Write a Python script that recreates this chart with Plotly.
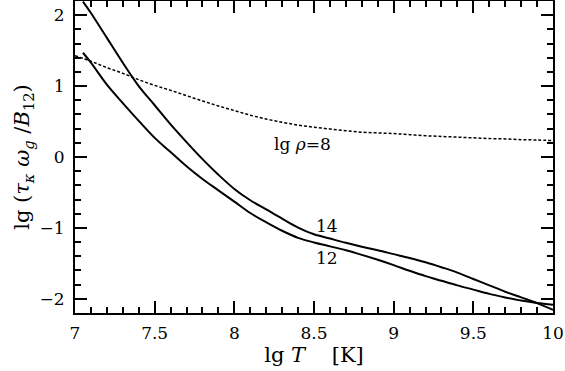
import plotly.graph_objects as go

# lg T grid (K) and the three curves
lgT_14 = [7.05, 7.1, 7.2, 7.3, 7.4, 7.5, 7.6, 7.7, 7.8, 7.9, 8.0, 8.1, 8.2, 8.3, 8.4, 8.5,
          8.6, 8.7, 8.8, 8.9, 9.0, 9.1, 9.2, 9.3, 9.4, 9.5, 9.6, 9.7, 9.8, 9.9, 10.0]
rho14 = [2.19, 2.03, 1.68, 1.33, 1.00, 0.73, 0.46, 0.21, -0.03, -0.25, -0.45, -0.61, -0.74,
         -0.87, -0.995, -1.09, -1.15, -1.21, -1.265, -1.315, -1.37, -1.425, -1.485, -1.555,
         -1.63, -1.72, -1.81, -1.90, -1.98, -2.06, -2.155]

lgT_12 = lgT_14
rho12 = [1.47, 1.33, 1.02, 0.76, 0.51, 0.27, 0.07, -0.13, -0.31, -0.47, -0.63, -0.79, -0.92,
         -1.04, -1.14, -1.205, -1.26, -1.315, -1.38, -1.45, -1.525, -1.605, -1.68, -1.745,
         -1.81, -1.87, -1.93, -1.98, -2.025, -2.06, -2.085]

lgT_8 = [7.0, 7.1, 7.2, 7.3, 7.4, 7.5, 7.6, 7.7, 7.8, 7.9, 8.0, 8.1, 8.2, 8.3, 8.4, 8.5,
         8.6, 8.7, 8.8, 8.9, 9.0, 9.1, 9.2, 9.3, 9.4, 9.5, 9.6, 9.7, 9.8, 9.9, 10.0]
rho8 = [1.43, 1.35, 1.26, 1.18, 1.09, 1.01, 0.94, 0.865, 0.79, 0.72, 0.655, 0.59, 0.535,
        0.49, 0.45, 0.42, 0.395, 0.37, 0.35, 0.34, 0.33, 0.315, 0.30, 0.29, 0.28, 0.27,
        0.26, 0.255, 0.245, 0.24, 0.23]

FONT = 'DejaVu Serif'

fig = go.Figure()
fig.add_trace(go.Scatter(x=lgT_14, y=rho14, mode='lines', line=dict(color='black', width=2),
                         line_shape='spline', showlegend=False, hoverinfo='skip'))
fig.add_trace(go.Scatter(x=lgT_12, y=rho12, mode='lines', line=dict(color='black', width=2),
                         line_shape='spline', showlegend=False, hoverinfo='skip'))
fig.add_trace(go.Scatter(x=lgT_8, y=rho8, mode='lines',
                         line=dict(color='black', width=1.5, dash='3px,2px'),
                         line_shape='spline', showlegend=False, hoverinfo='skip'))

for txt, x, y in [('lg <i>ρ</i>=8', 8.43, 0.18), ('14', 8.58, -0.98), ('12', 8.58, -1.43)]:
    fig.add_annotation(x=x, y=y, text=txt, showarrow=False,
                       font=dict(family=FONT, size=17, color='black'))

axis = dict(showline=True, linecolor='black', linewidth=2, mirror='allticks',
            ticks='inside', ticklen=12, tickwidth=1.5, tickcolor='black',
            showgrid=False, zeroline=False, automargin=False,
            tickfont=dict(family=FONT, size=17, color='black'))

fig.update_xaxes(range=[7, 10], dtick=0.5, tick0=7, ticklabelstandoff=4,
                 minor=dict(dtick=0.1, ticks='inside', ticklen=6, tickwidth=1.5, tickcolor='black'),
                 title=dict(text='lg <i>T</i>    [K]', font=dict(family=FONT, size=21, color='black'),
                            standoff=3),
                 **axis)
fig.update_yaxes(range=[-2.2, 2.2], dtick=1, tick0=0, ticklabelstandoff=5,
                 minor=dict(dtick=0.2, ticks='inside', ticklen=6, tickwidth=1.5, tickcolor='black'),
                 title=dict(text='lg (<i>τ</i><sub><i>κ</i></sub> <i>ω</i><sub><i>g</i></sub> /<i>B</i><sub>12</sub>)',
                            font=dict(family=FONT, size=21, color='black'), standoff=4),
                 **axis)

fig.update_layout(width=565, height=371, plot_bgcolor='white', paper_bgcolor='white',
                  margin=dict(l=75, r=12, t=1, b=58))

# drop the browser's default body margin so the 565x371 figure fills the window
fig.write_html('out.html', config={'displayModeBar': False},
               post_script="document.body.style.margin='0';")
